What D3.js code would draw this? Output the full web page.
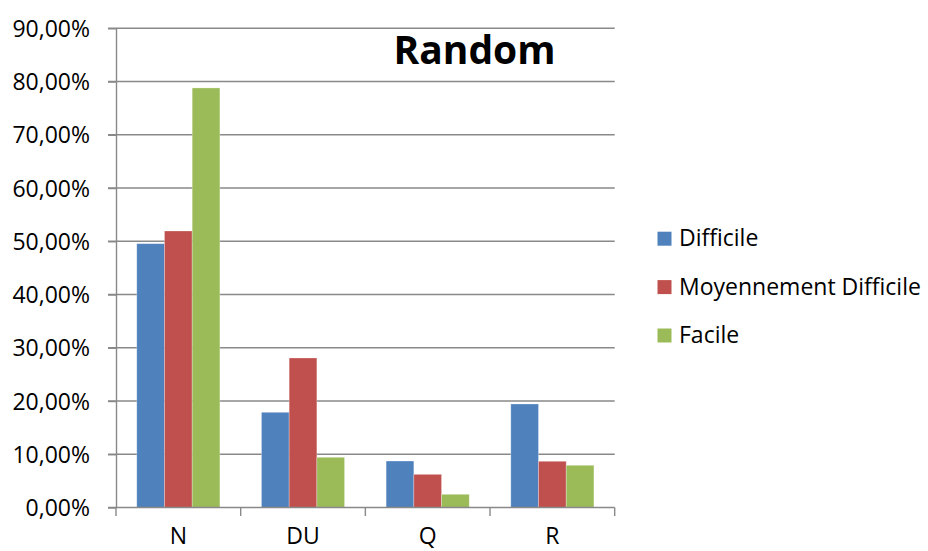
<!DOCTYPE html>
<html>
<head>
<meta charset="utf-8">
<script src="https://cdn.jsdelivr.net/npm/d3@7"></script>
<style>
  html, body { margin: 0; padding: 0; background: #fff; }
  svg { display: block; font-family: "Open Sans", sans-serif; }
</style>
</head>
<body>
<svg id="chart" width="928" height="551"></svg>
<script>
const categories = ["N", "DU", "Q", "R"];
const seriesNames = ["Difficile", "Moyennement Difficile", "Facile"];
const difficile = [0.4955, 0.1788, 0.0873, 0.1944];
const moyennement = [0.5193, 0.2808, 0.0623, 0.0868];
const facile = [0.7880, 0.0943, 0.0248, 0.0793];
const yTicks = [0, 0.1, 0.2, 0.3, 0.4, 0.5, 0.6, 0.7, 0.8, 0.9];
const colors = ["#4F81BD", "#C0504D", "#9BBB59"];
const title = "Random";

(function () {
const seriesValues = [difficile, moyennement, facile];
const svg = d3.select("#chart");

const pLeft = 116, pRight = 614.7, pTop = 28.3, pBottom = 507.5;
const gridColor = "#898989";

const y = d3.scaleLinear().domain([0, 0.9]).range([pBottom, pTop]);
const x0 = d3.scaleBand().domain(categories).range([pLeft, pRight]).padding(0);
const x1 = d3.scaleBand().domain(seriesNames).range([0, x0.bandwidth()]).paddingInner(0).paddingOuter(0.75);
const color = d3.scaleOrdinal().domain(seriesNames).range(colors);

// gridlines
svg.append("g").selectAll("line").data(yTicks.filter(d => d > 0)).join("line")
  .attr("x1", pLeft - 8).attr("x2", pRight)
  .attr("y1", d => y(d)).attr("y2", d => y(d))
  .attr("stroke", gridColor).attr("stroke-width", 1.4);

// bars
const groups = svg.append("g").selectAll("g").data(categories).join("g")
  .attr("transform", d => `translate(${x0(d)},0)`);
groups.selectAll("rect")
  .data((c, i) => seriesNames.map((s, j) => ({ s, v: seriesValues[j][i] })))
  .join("rect")
  .attr("x", d => x1(d.s))
  .attr("width", x1.bandwidth())
  .attr("y", d => y(d.v))
  .attr("height", d => y(0) - y(d.v))
  .attr("fill", d => color(d.s))
  .attr("stroke", "rgba(255,255,255,0.35)")
  .attr("stroke-width", 0.8);

// y axis
const fmt = d => d3.format(".2f")(d * 100).replace(".", ",") + "%";
const yAxis = svg.append("g").attr("transform", `translate(${pLeft},0)`)
  .call(d3.axisLeft(y).tickValues(yTicks).tickFormat(fmt).tickSizeInner(8).tickSizeOuter(0).tickPadding(18));
yAxis.select(".domain").attr("stroke", gridColor).attr("stroke-width", 1.4);
yAxis.selectAll(".tick line").attr("stroke", gridColor).attr("stroke-width", 1.4);
yAxis.selectAll(".tick text").attr("font-size", 23).attr("fill", "#000")
  .attr("font-family", "'Open Sans', sans-serif").attr("dy", "0.35em");

// x axis baseline and boundary ticks
const bounds = categories.map(c => x0(c)).concat([pRight]);
svg.append("line").attr("x1", pLeft - 8).attr("x2", pRight)
  .attr("y1", y(0)).attr("y2", y(0)).attr("stroke", gridColor).attr("stroke-width", 1.4);
svg.append("g").selectAll("line").data(bounds).join("line")
  .attr("x1", d => d).attr("x2", d => d)
  .attr("y1", y(0)).attr("y2", y(0) + 8.5)
  .attr("stroke", gridColor).attr("stroke-width", 1.4);

// x labels
svg.append("g").selectAll("text").data(categories).join("text")
  .attr("x", d => x0(d) + x0.bandwidth() / 2)
  .attr("y", 544)
  .attr("text-anchor", "middle")
  .attr("font-size", 23).attr("fill", "#000")
  .text(d => d);

// title
svg.append("text")
  .attr("x", 474.5).attr("y", 63.5)
  .attr("text-anchor", "middle")
  .attr("font-size", 39).attr("font-weight", "bold").attr("fill", "#000")
  .text(title);

// legend
const legend = svg.append("g").selectAll("g").data(seriesNames).join("g")
  .attr("transform", (d, i) => `translate(657.5, ${231.7 + i * 48.4})`);
legend.append("rect").attr("width", 14).attr("height", 14).attr("fill", d => color(d));
legend.append("text").attr("x", 21.5).attr("y", 14.5)
  .attr("font-size", 23).attr("fill", "#000").text(d => d);
})();
</script>
</body>
</html>
